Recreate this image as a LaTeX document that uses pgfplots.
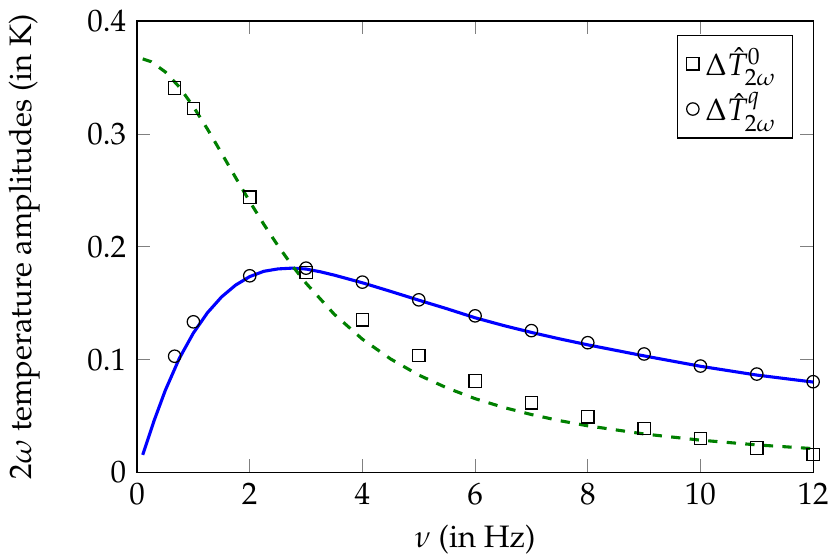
\documentclass[border=0pt]{standalone}
\usepackage[T1]{fontenc}
\usepackage{mathpazo}
\usepackage{pgfplots}
\pgfplotsset{compat=1.18}
\begin{document}
\begin{tikzpicture}
\begin{axis}[
  name=ax,
  scale only axis,
  width=218pt, height=145.5pt,
  xmin=0, xmax=12, ymin=0, ymax=0.4,
  xtick={0,2,...,12},
  ytick={0,0.1,0.2,0.3,0.4},
  yticklabel style={/pgf/number format/fixed},
  xlabel={$\nu$ (in Hz)},
  ylabel={$2\omega$ temperature amplitudes (in K)},
  xlabel style={at={(axis description cs:0.5,-0.149)}, anchor=center},
  ylabel style={at={(axis description cs:-0.167,0.5)}, anchor=center, rotate=0},
  legend style={at={(0.97,0.97)}, anchor=north east, legend cell align=left},
]
\addplot[blue, line width=1pt, forget plot] coordinates {
(0.1,0.0155) (0.3,0.0455) (0.5,0.0725) (0.75,0.101) (1.0,0.1235)
(1.25,0.1415) (1.5,0.1555) (1.75,0.1660) (2.0,0.1735) (2.25,0.1782)
(2.5,0.1803) (2.75,0.1810) (3.0,0.1802) (3.25,0.1778) (3.5,0.1748)
(4.0,0.1680) (4.5,0.1604) (5.0,0.1526) (5.5,0.1450) (6.0,0.1370)
(6.5,0.1302) (7.0,0.1240) (7.5,0.1183) (8.0,0.1130) (9.0,0.1032)
(10.0,0.0940) (11.0,0.0862) (12.0,0.0800)
};
\addplot[green!50!black, line width=1pt, dashed, forget plot] coordinates {
(0.1,0.3665) (0.25,0.364) (0.5,0.355) (0.75,0.3416) (1.0,0.3241)
(1.25,0.3042) (1.5,0.2829) (1.75,0.2612) (2.0,0.2400) (2.25,0.2198)
(2.5,0.2009) (2.75,0.1835) (3.0,0.1676) (3.5,0.1401) (4.0,0.1180)
(4.5,0.1005) (5.0,0.0862) (5.5,0.0748) (6.0,0.0653) (6.5,0.0576)
(7.0,0.0512) (7.5,0.0458) (8.0,0.0412) (9.0,0.0340) (10.0,0.0285)
(11.0,0.0243) (12.0,0.0210)
};
\addplot[only marks, mark=square, black] coordinates {
(0.667,0.3407) (1,0.3224) (2,0.2438) (3,0.1770) (4,0.1351) (5,0.1034)
(6,0.0809) (7,0.0616) (8,0.0492) (9,0.0388) (10,0.0299) (11,0.0216) (12,0.0157)
};
\addlegendentry{$\Delta\hat{T}^{0}_{2\omega}$}
\addplot[only marks, mark=o, black] coordinates {
(0.667,0.1029) (1,0.1334) (2,0.1742) (3,0.1810) (4,0.1686) (5,0.1529)
(6,0.1387) (7,0.1256) (8,0.1149) (9,0.1049) (10,0.0942) (11,0.0871) (12,0.0803)
};
\addlegendentry{$\Delta\hat{T}^{q}_{2\omega}$}
\end{axis}
\pgfresetboundingbox
\useasboundingbox ([xshift=-44.2pt,yshift=-27.1pt]ax.south west) rectangle ([xshift=4.8pt,yshift=6.8pt]ax.north east);
\end{tikzpicture}
\end{document}
